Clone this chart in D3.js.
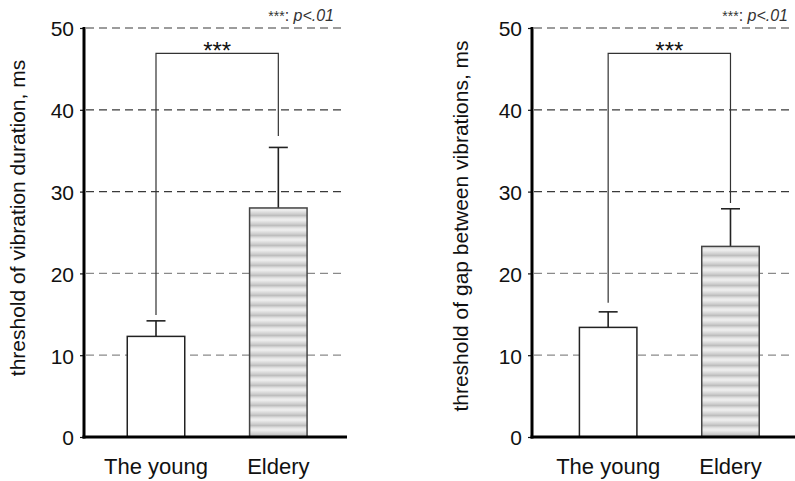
<!DOCTYPE html>
<html>
<head>
<meta charset="utf-8">
<script src="https://cdn.jsdelivr.net/npm/d3@7/dist/d3.min.js"></script>
<style>
    html, body { margin: 0; padding: 0; background: #fff; }
    svg { display: block; font-family: 'Liberation Sans', Arial, sans-serif; }
    .tick text { font-size: 21px; fill: #111; }
    .axis-title { font-size: 21px; fill: #111; }
    .cat-label { font-size: 22px; fill: #111; }
</style>
</head>
<body>
<div id="chart"></div>
<script>
const categories = ['The young', 'Eldery'];
const yTicks = [0, 10, 20, 30, 40, 50];

const durationMeans = [12.3, 28.0];
const durationErrors = [1.9, 7.4];
const durationBracketTop = 46.9;
const durationBracketLegs = [14.9, 36.8];

const gapMeans = [13.4, 23.3];
const gapErrors = [1.9, 4.6];
const gapBracketTop = 46.9;
const gapBracketLegs = [16.4, 28.6];

const width = 795;
const height = 481;

const svg = d3.select('#chart')
    .append('svg')
    .attr('width', width)
    .attr('height', height);

const defs = svg.append('defs');
const pattern = defs.append('pattern')
    .attr('id', 'stripes')
    .attr('patternUnits', 'userSpaceOnUse')
    .attr('width', 10)
    .attr('height', 10);
const grad = defs.append('linearGradient')
    .attr('id', 'stripeGrad')
    .attr('x1', 0).attr('x2', 0).attr('y1', 0).attr('y2', 1);
[['0%', '#f0f0f0'], ['35%', '#d2d2d2'], ['55%', '#bebebe'], ['80%', '#e4e4e4'], ['100%', '#f0f0f0']]
    .forEach(([offset, color]) => grad.append('stop').attr('offset', offset).attr('stop-color', color));
pattern.append('rect')
    .attr('width', 10)
    .attr('height', 10)
    .attr('fill', 'url(#stripeGrad)');

const panels = [
    {
        axisX: 84, rightX: 347, align: 0.52,
        means: durationMeans, errors: durationErrors,
        bracketTop: durationBracketTop, bracketLegs: durationBracketLegs,
        title: 'threshold of vibration duration, ms', titleX: 18, titleY: 218,
        noteX: 334
    },
    {
        axisX: 532, rightX: 795, align: 0.57,
        means: gapMeans, errors: gapErrors,
        bracketTop: gapBracketTop, bracketLegs: gapBracketLegs,
        title: 'threshold of gap between vibrations, ms', titleX: 461, titleY: 226,
        noteX: 788
    }
];

const y = d3.scaleLinear()
    .domain([0, 50])
    .range([437, 28]);

panels.forEach(panel => drawPanel(panel));

function drawPanel(p) {
    const g = svg.append('g');

    const x = d3.scaleBand()
        .domain(categories)
        .range([p.axisX, p.rightX])
        .paddingInner(0.53)
        .paddingOuter(0.34)
        .align(p.align);

    // grid lines
    g.append('g')
        .selectAll('line')
        .data(yTicks.filter(t => t > 0))
        .join('line')
        .attr('x1', p.axisX + 2)
        .attr('x2', p.rightX - 2)
        .attr('y1', d => y(d))
        .attr('y2', d => y(d))
        .attr('stroke', d => d >= 30 ? '#3a3a3a' : '#8a8a8a')
        .attr('stroke-width', 1.2)
        .attr('stroke-dasharray', '8,5');

    // bracket
    const cx = categories.map(c => x(c) + x.bandwidth() / 2);
    g.append('path')
        .attr('d', `M${cx[0]},${y(p.bracketLegs[0])}V${y(p.bracketTop)}H${cx[1]}V${y(p.bracketLegs[1])}`)
        .attr('fill', 'none')
        .attr('stroke', '#333')
        .attr('stroke-width', 1.2);

    g.append('text')
        .attr('x', (cx[0] + cx[1]) / 2)
        .attr('y', y(p.bracketTop) + 6)
        .attr('text-anchor', 'middle')
        .attr('font-size', 24)
        .attr('fill', '#111')
        .text('***');

    // error bars
    categories.forEach((c, i) => {
        const top = y(p.means[i] + p.errors[i]);
        g.append('line')
            .attr('x1', cx[i]).attr('x2', cx[i])
            .attr('y1', y(p.means[i])).attr('y2', top)
            .attr('stroke', '#222').attr('stroke-width', 1.6);
        g.append('line')
            .attr('x1', cx[i] - 9.5).attr('x2', cx[i] + 9.5)
            .attr('y1', top).attr('y2', top)
            .attr('stroke', '#222').attr('stroke-width', 1.6);
    });

    // bars
    g.append('g')
        .selectAll('rect')
        .data(categories)
        .join('rect')
        .attr('x', c => x(c))
        .attr('y', (c, i) => y(p.means[i]))
        .attr('width', x.bandwidth())
        .attr('height', (c, i) => y(0) - y(p.means[i]))
        .attr('fill', (c, i) => i === 0 ? '#fff' : 'url(#stripes)')
        .attr('stroke', (c, i) => i === 0 ? '#222' : '#444')
        .attr('stroke-width', 1.5);

    // y axis
    const axis = g.append('g')
        .attr('transform', `translate(${p.axisX},0)`)
        .call(d3.axisLeft(y).tickValues(yTicks).tickSize(4).tickPadding(6).tickFormat(d3.format('d')));
    axis.select('.domain').remove();
    axis.selectAll('.tick line').attr('stroke', '#111').attr('stroke-width', 1.2);
    axis.selectAll('.tick text').attr('dy', '0.38em');

    g.append('line')
        .attr('x1', p.axisX).attr('x2', p.axisX)
        .attr('y1', y(50) - 1).attr('y2', y(0) + 1.5)
        .attr('stroke', '#000').attr('stroke-width', 3);
    g.append('line')
        .attr('x1', p.axisX - 1.5).attr('x2', p.rightX)
        .attr('y1', y(0)).attr('y2', y(0))
        .attr('stroke', '#000').attr('stroke-width', 3);

    // category labels
    g.append('g')
        .selectAll('text')
        .data(categories)
        .join('text')
        .attr('class', 'cat-label')
        .attr('x', c => x(c) + x.bandwidth() / 2)
        .attr('y', 474)
        .attr('text-anchor', 'middle')
        .text(c => c);

    // axis title
    g.append('text')
        .attr('class', 'axis-title')
        .attr('transform', `translate(${p.titleX},${p.titleY}) rotate(-90)`)
        .attr('text-anchor', 'middle')
        .attr('dy', '0.35em')
        .text(p.title);

    // significance note
    const note = g.append('text')
        .attr('x', p.noteX)
        .attr('y', 21)
        .attr('text-anchor', 'end')
        .attr('font-size', 16)
        .attr('fill', '#333');
    note.append('tspan').attr('font-size', 14).text('***');
    note.append('tspan').text(': ');
    note.append('tspan').attr('font-style', 'italic').text('p<.01');
}
</script>
</body>
</html>
